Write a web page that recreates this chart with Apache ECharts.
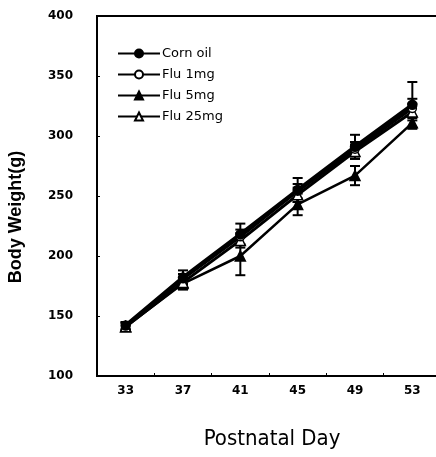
<!DOCTYPE html>
<html>
<head>
<meta charset="utf-8">
<script src="https://cdn.jsdelivr.net/npm/echarts@6/dist/echarts.min.js"></script>
<style>
  html, body { margin: 0; padding: 0; background: #fff; }
  #main { width: 436px; height: 457px; }
</style>
</head>
<body>
<div id="main"></div>
<script>
// postnatal days (category axis)
var days = ['33', '37', '41', '45', '49', '53'];

// mean body weight (g)
var cornOil = [142, 182, 218, 255, 291, 326];
var flu1mg  = [142, 181, 216, 254, 289, 323];
var flu5mg  = [141, 177, 200, 243, 267, 311];
var flu25mg = [141, 178, 213, 251, 287, 320];

// error bar half-heights
var cornOilErr = [3, 6, 9, 10, 10, 19];
var flu1mgErr  = [3, 4, 6, 6, 6, 8];
var flu5mgErr  = [3, 5, 16, 9, 8, 5];
var flu25mgErr = [3, 4, 6, 6, 6, 7];

var yTicks = [100, 150, 200, 250, 300, 350, 400];

var chart = echarts.init(document.getElementById('main'));

function errData(vals, errs) {
  var out = [];
  for (var i = 0; i < vals.length; i++) {
    out.push([i, vals[i] - errs[i], vals[i] + errs[i]]);
  }
  return out;
}

function renderErr(params, api) {
  var lo = api.coord([api.value(0), api.value(1)]);
  var hi = api.coord([api.value(0), api.value(2)]);
  var w = 5;
  var st = { stroke: '#000', lineWidth: 2 };
  return {
    type: 'group',
    children: [
      { type: 'line', shape: { x1: lo[0], y1: lo[1], x2: hi[0], y2: hi[1] }, style: st },
      { type: 'line', shape: { x1: lo[0] - w, y1: lo[1], x2: lo[0] + w, y2: lo[1] }, style: st },
      { type: 'line', shape: { x1: hi[0] - w, y1: hi[1], x2: hi[0] + w, y2: hi[1] }, style: st }
    ]
  };
}

function lineSeries(name, data, symbol, filled, width, size) {
  return {
    name: name,
    type: 'line',
    data: data,
    symbol: symbol,
    symbolSize: size,
    showSymbol: true,
    z: 3,
    lineStyle: { color: '#000', width: width },
    itemStyle: { color: filled ? '#000' : '#fff', borderColor: '#000', borderWidth: 1.5 }
  };
}

function errSeries(data) {
  return {
    type: 'custom',
    renderItem: renderErr,
    data: data,
    z: 2,
    silent: true,
    encode: { x: 0, y: [1, 2] }
  };
}

var tickFont = 'DejaVu Sans';

chart.setOption({
  animation: false,
  backgroundColor: '#fff',
  grid: {
    left: 97, top: 16, width: 344, height: 360,
    outerBoundsMode: 'none',
    containLabel: false,
    show: true, borderColor: '#000', borderWidth: 2
  },
  legend: {
    orient: 'vertical',
    left: 112,
    top: 42,
    itemWidth: 42,
    itemHeight: 10,
    itemGap: 8,
    data: ['Corn oil', 'Flu 1mg', 'Flu 5mg', 'Flu 25mg'],
    textStyle: { color: '#000', fontFamily: 'DejaVu Sans', fontSize: 13, padding: [0, 0, 0, -3] }
  },
  xAxis: {
    type: 'category',
    data: days,
    boundaryGap: true,
    name: 'Postnatal Day',
    nameLocation: 'middle',
    nameGap: 52,
    nameTextStyle: {
      color: '#000', fontSize: 22,
      fontFamily: '"Liberation Sans Narrow", "DejaVu Sans Condensed", sans-serif',
      padding: [0, 0, 0, 6]
    },
    axisLine: { lineStyle: { color: '#000', width: 2 } },
    axisTick: { show: true, inside: true, length: 3, alignWithLabel: false, lineStyle: { color: '#000' } },
    axisLabel: { color: '#000', fontWeight: 'bold', fontSize: 12, fontFamily: tickFont, margin: 9 },
    splitLine: { show: false }
  },
  yAxis: {
    type: 'value',
    min: yTicks[0],
    max: yTicks[yTicks.length - 1],
    interval: 50,
    name: 'Body Weight(g)',
    nameLocation: 'middle',
    nameGap: 72,
    nameRotate: 90,
    nameTextStyle: {
      color: '#000', fontSize: 18, fontWeight: 'bold',
      fontFamily: '"Liberation Sans", Arial, sans-serif',
      padding: [0, 42, 0, 0]
    },
    axisLine: { show: true, lineStyle: { color: '#000', width: 2 } },
    axisTick: { show: true, inside: true, length: 3, lineStyle: { color: '#000' } },
    axisLabel: { color: '#000', fontWeight: 'bold', fontSize: 12, fontFamily: tickFont, margin: 24 },
    splitLine: { show: false }
  },
  series: [
    errSeries(errData(cornOil, cornOilErr)),
    errSeries(errData(flu1mg, flu1mgErr)),
    errSeries(errData(flu5mg, flu5mgErr)),
    errSeries(errData(flu25mg, flu25mgErr)),
    lineSeries('Flu 5mg', flu5mg, 'triangle', true, 2.5, 10),
    lineSeries('Flu 25mg', flu25mg, 'triangle', false, 3, 10),
    lineSeries('Flu 1mg', flu1mg, 'circle', false, 3, 8),
    lineSeries('Corn oil', cornOil, 'circle', true, 4, 9)
  ]
});
</script>
</body>
</html>
